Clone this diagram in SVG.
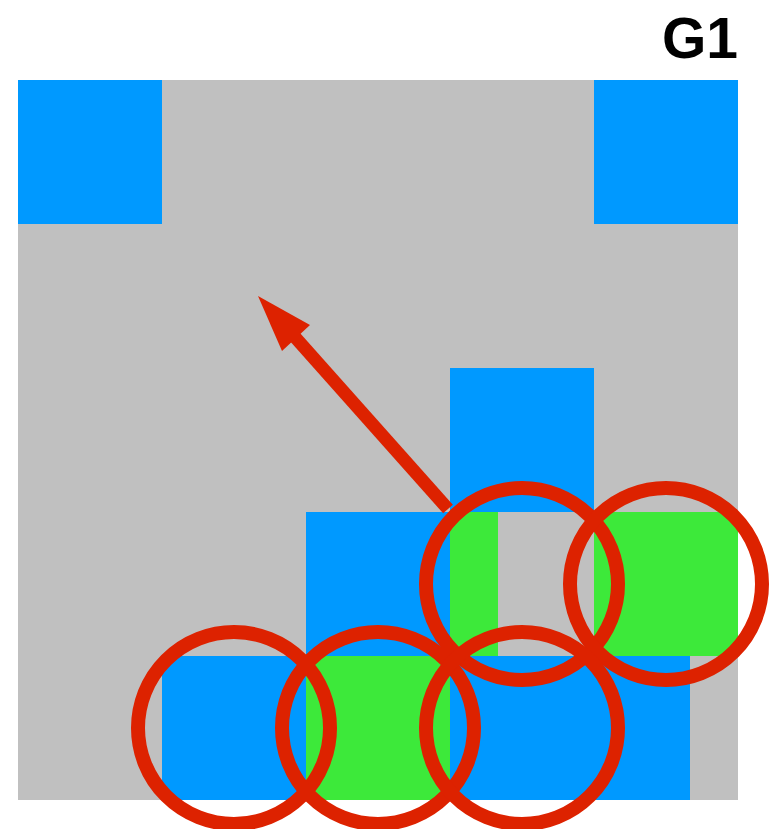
<svg xmlns="http://www.w3.org/2000/svg" width="770" height="829" viewBox="0 0 770 829">
<style>
.gray{fill:#c0c0c0}
.blue{fill:#0099ff}
.green{fill:#3de93a}
.ring{fill:none;stroke:#dd2200;stroke-width:14}
.title{font-family:"Liberation Sans",Arial,sans-serif;font-weight:bold;font-size:57px;fill:#000}
</style>
<rect width="770" height="829" fill="#ffffff"/>
<g id="title"><text class="title" x="738" y="58" text-anchor="end">G1</text></g>
<g id="board">
<rect class="gray" x="18" y="80" width="720" height="720"/>
<rect class="blue" x="18" y="80" width="144" height="144"/>
<rect class="blue" x="594" y="80" width="144" height="144"/>
<rect class="blue" x="450" y="368" width="144" height="144"/>
<rect class="blue" x="306" y="512" width="144" height="144"/>
<rect class="green" x="450" y="512" width="48" height="144"/>
<rect class="green" x="594" y="512" width="144" height="144"/>
<rect class="blue" x="162" y="656" width="144" height="144"/>
<rect class="green" x="306" y="656" width="144" height="144"/>
<rect class="blue" x="450" y="656" width="240" height="144"/>
</g>
<g id="connectors">
<line x1="448" y1="509" x2="294" y2="336" stroke="#dd2200" stroke-width="13"/>
<polygon points="258,296 282,351 310,325" fill="#dd2200"/>
</g>
<g id="c1"><circle class="ring" cx="522" cy="584" r="96"/></g>
<g id="c2"><circle class="ring" cx="666" cy="584" r="96"/></g>
<g id="c3"><circle class="ring" cx="234" cy="728" r="96"/></g>
<g id="c4"><circle class="ring" cx="378" cy="728" r="96"/></g>
<g id="c5"><circle class="ring" cx="522" cy="728" r="96"/></g>
</svg>
